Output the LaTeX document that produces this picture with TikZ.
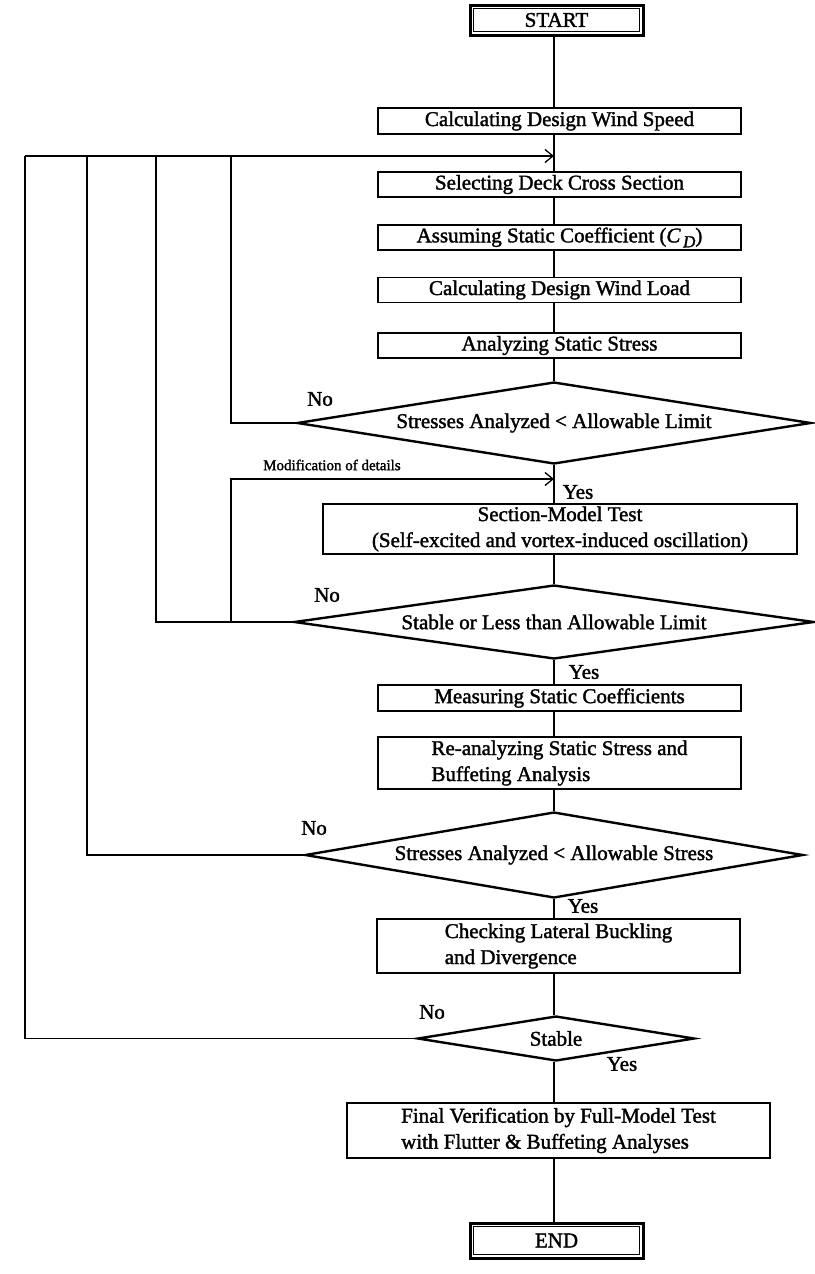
\documentclass[tikz,border=0pt]{standalone}
\usepackage{fontspec}
\setmainfont{Liberation Serif}[BoldFont=Liberation Serif,BoldFeatures={FakeBold=1.6},BoldItalicFont=Liberation Serif Italic,BoldItalicFeatures={FakeBold=1.6}]
\usetikzlibrary{arrows.meta,shapes.geometric}
\begin{document}
\begin{tikzpicture}[x=1pt,y=-1pt,
  txt/.style={font=\fontsize{21}{26}\selectfont\bfseries},
  box/.style={txt,draw,line width=1.8pt,inner sep=0pt,minimum height=25pt,minimum width=363pt,align=center},
  dec/.style={txt,draw,diamond,line width=2.4pt,inner sep=0pt},
  term/.style={txt,draw,line width=3pt,inner sep=0pt,minimum width=173pt},
  lab/.style={txt,inner sep=0pt},
  conn/.style={line width=1.6pt},
  arr/.style={conn,-{Straight Barb[length=8pt,width=13pt,line width=1.3pt]}}
]
\useasboundingbox (0,0) rectangle (814,1274);
\fill[white] (0,0) rectangle (814,1274);

\coordinate (axis) at (554,0);

% terminals
\node[term,minimum height=30pt] (start) at (556.5,20) {START};
\draw[line width=1pt] ([shift={(5,5)}]start.north west) rectangle ([shift={(-5,-5)}]start.south east);
\node[term,minimum height=35pt] (end) at (556.5,1240.5) {END};
\draw[line width=1pt] ([shift={(5,5)}]end.north west) rectangle ([shift={(-5,-5)}]end.south east);

% process boxes
\node[box,minimum height=26pt] (speed) at (559.5,121) {Calculating Design Wind Speed};
\node[box] (select) at (559.5,184.5) {Selecting Deck Cross Section};
\node[box] (assume) at (559.5,237.5) {Assuming Static Coefficient (\textit{C}\kern2.5pt\raisebox{-5pt}{\fontsize{17}{17}\selectfont\textit{D}})};
\node[box] (load) at (559.5,290) {Calculating Design Wind Load};
\node[box] (analyze) at (559.5,345.5) {Analyzing Static Stress};
\node[box,minimum width=474pt,minimum height=50pt] (section) at (560,529) {Section-Model Test\\(Self-excited and vortex-induced oscillation)};
\node[box,minimum height=26pt] (measure) at (559.5,698) {Measuring Static Coefficients};
\node[box,minimum height=52pt,align=left] (reanal) at (559.5,763) {Re-analyzing Static Stress and\\Buffeting Analysis};
\node[box,minimum height=54pt,align=left] (check) at (558.5,946) {Checking Lateral Buckling\\and Divergence};
\node[box,minimum width=423pt,minimum height=55pt,align=left] (final) at (558.5,1130.5) {Final Verification by Full-Model Test\\with Flutter \& Buffeting Analyses};

% decisions
\node[dec,minimum width=514pt,minimum height=82pt,aspect=6.27] (d1) at (554,423) {Stresses Analyzed < Allowable Limit};
\node[dec,minimum width=520pt,minimum height=74pt,aspect=7.03] (d2) at (554,622) {Stable or Less than Allowable Limit};
\node[dec,minimum width=498pt,minimum height=86pt,aspect=5.79] (d3) at (554,855) {Stresses Analyzed < Allowable Stress};
\node[dec,minimum width=277pt,minimum height=45pt,aspect=6.16] (stable) at (556,1038.5) {Stable};

% labels
\node[lab] (no1) at (320,399) {No};
\node[lab] (no2) at (327,595) {No};
\node[lab] (no3) at (314,828) {No};
\node[lab] (no4) at (432,1012) {No};
\node[lab] (yes1) at (578,492) {Yes};
\node[lab] (yes2) at (584,672) {Yes};
\node[lab] (yes3) at (583,906) {Yes};
\node[lab] (yes4) at (622,1064) {Yes};
\node[inner sep=0pt,anchor=west,font=\fontsize{15}{18}\selectfont\bfseries] (modlab) at (263,465) {Modification of details};

% main flow
\draw[conn] (start.south -| axis) -- (speed.north -| axis);
\draw[conn] (speed.south -| axis) -- (select.north -| axis);
\draw[conn] (select.south -| axis) -- (assume.north -| axis);
\draw[conn] (assume.south -| axis) -- (load.north -| axis);
\draw[conn] (load.south -| axis) -- (analyze.north -| axis);
\draw[conn] (analyze.south -| axis) -- (d1.north);
\draw[conn] (d1.south) -- (section.north -| axis);
\draw[conn] (section.south -| axis) -- (d2.north);
\draw[conn] (d2.south) -- (measure.north -| axis);
\draw[conn] (measure.south -| axis) -- (reanal.north -| axis);
\draw[conn] (reanal.south -| axis) -- (d3.north);
\draw[conn] (d3.south) -- (check.north -| axis);
\draw[conn] (check.south -| axis) -- (stable.north -| axis);
\draw[conn] (stable.south -| axis) -- (final.north -| axis);
\draw[conn] (final.south -| axis) -- (end.north -| axis);

% loop-backs
\coordinate (loop) at (554,156);
\coordinate (t1) at (231,156);
\coordinate (t2) at (156,156);
\coordinate (t3) at (87,156);
\coordinate (t4) at (25,156);
\coordinate (m1) at (231,622);
\coordinate (merge) at (554,479);
\draw[arr] (t4) -- (loop);
\draw[conn] (d1.west) -| (t1);
\draw[conn] (d2.west) -| (t2);
\draw[conn] (d3.west) -| (t3);
\draw[conn] (stable.west) -| (t4);
\draw[arr] (m1) |- (merge);
\end{tikzpicture}
\end{document}
